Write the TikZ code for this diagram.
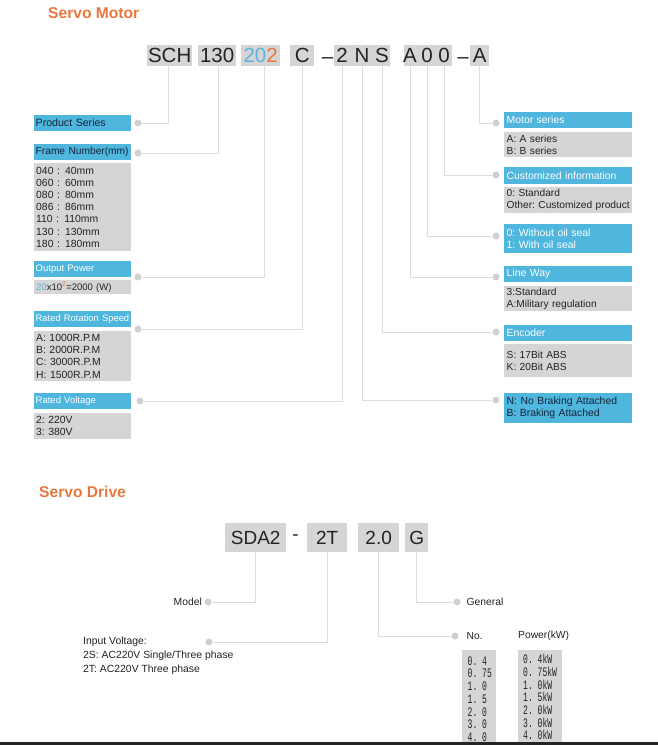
\documentclass[tikz,border=0pt]{standalone}
\usepackage{fontspec}
\setmainfont{Liberation Sans}
\newfontfamily\nmono[FakeStretch=0.62]{Liberation Mono}
\usetikzlibrary{calc}
\definecolor{org}{HTML}{E9773D}
\definecolor{sky}{HTML}{4FB6DE}
\definecolor{skyt}{HTML}{5AB4DB}
\definecolor{boxg}{HTML}{D5D5D5}
\definecolor{lineg}{HTML}{DCDCDC}
\definecolor{dotg}{HTML}{D0D0D0}
\definecolor{txt}{HTML}{222222}
\definecolor{navy}{HTML}{14243A}
\definecolor{barc}{HTML}{252525}
\newcommand\fsz[2]{\fontsize{#1}{#2}\selectfont}
\begin{document}
\frenchspacing
\begin{tikzpicture}[x=1pt,y=-1pt,
  title/.style={anchor=west,inner sep=0pt,text=org,font=\fsz{15.6}{18}\bfseries},
  code/.style={fill=boxg,inner sep=0pt,minimum height=21pt,anchor=north west,text=txt,font=\fsz{20.5}{22}},
  codetxt/.style={inner sep=0pt,text=txt,font=\fsz{20.5}{22}},
  dcode/.style={fill=boxg,inner sep=0pt,minimum height=29pt,anchor=north west,text=txt,font=\fsz{19}{21}},
  hdrL/.style={fill=sky,anchor=north west,inner xsep=1.5pt,inner ysep=0pt,text width=94pt,align=left,text=white,font=\fsz{9.5}{12}},
  grayL/.style={fill=boxg,anchor=north west,inner xsep=2pt,inner ysep=0pt,text width=93pt,align=left,text=txt,font=\fsz{10.4}{12.2}},
  hdrR/.style={fill=sky,anchor=north west,inner xsep=2.5pt,inner ysep=0pt,text width=123pt,align=left,text=white,font=\fsz{10.4}{12.2}},
  grayR/.style={fill=boxg,anchor=north west,inner xsep=2.5pt,inner ysep=0pt,text width=123pt,align=left,text=txt,font=\fsz{10.2}{12.2}},
  dot/.style={circle,fill=dotg,minimum size=7pt,inner sep=0pt},
  conn/.style={draw=lineg,line width=1pt},
  lbl/.style={inner sep=0pt,text=txt,font=\fsz{10.3}{12}},
  monotxt/.style={inner sep=0pt,anchor=west,text=txt,font=\nmono\fsz{13}{13}},
  monobox/.style={fill=boxg,anchor=north west,inner sep=0pt,minimum height=92pt}
]
\useasboundingbox (0,0) rectangle (658,745);

% ---------- Servo Motor ----------
\node[title] (t1) at (48,13) {Servo Motor};

\node[code,minimum width=45pt] (bSCH) at (147,45) {SCH};
\node[code,minimum width=38pt] (b130) at (198,45) {130};
\node[code,minimum width=39pt] (b202) at (241,45) {\textcolor{skyt}{20}\textcolor{org}{2}};
\node[code,minimum width=24pt] (bC) at (290,45) {C};
\node[codetxt,anchor=base] (dashA) at (327.5,63) {–};
\node[code,minimum width=56pt] (b2NS) at (334,45) {};
\node[codetxt] (c2) at (342,55.5) {2};
\node[codetxt] (cN) at (362,55.5) {N};
\node[codetxt] (cS) at (382,55.5) {S};
\node[code,minimum width=48pt] (bA00) at (404,45) {};
\node[codetxt] (cA) at (410,55.5) {A};
\node[codetxt] (c0a) at (427,55.5) {0};
\node[codetxt] (c0b) at (444,55.5) {0};
\node[codetxt,anchor=base] (dashB) at (463,63) {–};
\node[code,minimum width=19pt] (bA) at (470,45) {A};

% left column
\node[hdrL,text=navy,font=\fsz{10.6}{12},minimum height=16pt] (hPS) at (34,115) {Product Series};
\node[hdrL,text=navy,font=\fsz{10.2}{12},minimum height=16pt] (hFN) at (34,144) {Frame Number(mm)};
\node[grayL,minimum height=88pt] (gFN) at (34,163) {040 :\ \,40mm\\060 :\ \,60mm\\080 :\ \,80mm\\086 :\ \,86mm\\110 :\ \,110mm\\130 :\ \,130mm\\180 :\ \,180mm};
\node[hdrL,minimum height=16pt] (hOP) at (34,261) {Output Power};
\node[grayL,minimum height=14pt,font=\fsz{9.5}{11}] (gOP) at (34,280) {\textcolor{skyt}{20}x10\textsuperscript{\textcolor{org}{2}}=2000 (W)};
\node[hdrL,font=\fsz{9.4}{12},minimum height=16pt] (hRS) at (34,311) {Rated Rotation Speed};
\node[grayL,minimum height=50pt] (gRS) at (34,331) {A: 1000R.P.M\\B: 2000R.P.M\\C: 3000R.P.M\\H: 1500R.P.M};
\node[hdrL,minimum height=16pt] (hRV) at (34,393) {Rated Voltage};
\node[grayL,minimum height=26pt] (gRV) at (34,413) {2: 220V\\3: 380V};

% right column
\node[hdrR,minimum height=16pt] (hMS) at (504,112) {Motor series};
\node[grayR,minimum height=25pt] (gMS) at (504,132) {A: A series\\B: B series};
\node[hdrR,minimum height=17pt] (hCI) at (504,167) {Customized information};
\node[grayR,minimum height=26pt] (gCI) at (504,187) {0: Standard\\\mbox{Other: Customized product}};
\node[hdrR,minimum height=29pt] (hOS) at (504,224) {0: Without oil seal\\1: With oil seal};
\node[hdrR,minimum height=16pt] (hLW) at (504,266) {Line Way};
\node[grayR,minimum height=25pt] (gLW) at (504,286) {3:Standard\\A:Military regulation};
\node[hdrR,minimum height=16pt] (hEN) at (504,325) {Encoder};
\node[grayR,minimum height=33pt] (gEN) at (504,344) {S: 17Bit ABS\\K: 20Bit ABS};
\node[hdrR,text=navy,minimum height=30pt] (hBR) at (504,393) {N: No Braking Attached\\B: Braking Attached};

% dots
\node[dot] (dPS) at (138,123) {};
\node[dot] (dFN) at (138,153) {};
\node[dot] (dOP) at (138,277) {};
\node[dot] (dRS) at (138,329) {};
\node[dot] (dRV) at (140,401) {};
\node[dot] (dMS) at (496,123) {};
\node[dot] (dCI) at (496,175) {};
\node[dot] (dOS) at (496,236) {};
\node[dot] (dLW) at (496,277) {};
\node[dot] (dEN) at (496,332) {};
\node[dot] (dBR) at (496,400) {};

% connectors
\draw[conn] ($(bSCH.south)+(-1.5,0)$) |- (dPS);
\draw[conn] ($(b130.south)+(1,0)$) |- (dFN);
\draw[conn] ($(b202.south)+(3.5,0)$) |- (dOP);
\draw[conn] (bC.south) |- (dRS);
\draw[conn] (c2 |- b2NS.south) |- (dRV);
\draw[conn] (cN |- b2NS.south) |- (dBR);
\draw[conn] (cS |- b2NS.south) |- (dEN);
\draw[conn] (cA |- bA00.south) |- (dLW);
\draw[conn] (c0a |- bA00.south) |- (dOS);
\draw[conn] (c0b |- bA00.south) |- (dCI);
\draw[conn] (bA.south) |- (dMS);

% ---------- Servo Drive ----------
\node[title] (t2) at (39,492) {Servo Drive};

\node[dcode,minimum width=61pt] (bSDA) at (225,523) {SDA2};
\node[inner sep=0pt,text=txt,font=\fsz{19}{21}] (dashC) at (295.5,537.5) {-};
\node[dcode,minimum width=40pt] (b2T) at (307,523) {2T};
\node[dcode,minimum width=41pt] (b20) at (358,523) {2.0};
\node[dcode,minimum width=23pt] (bG) at (405,523) {G};

\node[dot] (dMod) at (208,602) {};
\node[dot] (dIV) at (209,642) {};
\node[dot] (dNo) at (455,636) {};
\node[dot] (dGen) at (457,602) {};

\draw[conn] (bSDA.south) |- (dMod);
\draw[conn] (b2T.south) |- (dIV);
\draw[conn] (b20.south) |- (dNo);
\draw[conn] (bG.south) |- (dGen);

\node[lbl,anchor=east] (tMod) at (202,602) {Model};
\node[lbl,anchor=west] (tGen) at (466.5,602) {General};
\node[lbl,anchor=west] (tNo) at (466.5,636) {No.};
\node[lbl,anchor=west] (tPow) at (518,636) {Power(kW)};
\node[lbl,anchor=north west,align=left,font=\fsz{10.4}{14}] (tIV) at (83,636.5) {Input Voltage:\\2S: AC220V Single/Three phase\\2T: AC220V Three phase};

\node[monobox,minimum width=34pt] (gNo) at (462,650) {};
\node[monobox,minimum width=44pt] (gPow) at (518,650) {};
\foreach \t [count=\i] in {0. 4,0. 75,1. 0,1. 5,2. 0,3. 0,4. 0}
  \node[monotxt] (no\i) at (467.5,{661+12.7*(\i-1)}) {\t};
\foreach \t [count=\i] in {0. 4kW,0. 75kW,1. 0kW,1. 5kW,2. 0kW,3. 0kW,4. 0kW}
  \node[monotxt] (pw\i) at (523,{659+12.7*(\i-1)}) {\t};

\fill[barc] (0,742) rectangle (658,745);
\end{tikzpicture}
\end{document}
